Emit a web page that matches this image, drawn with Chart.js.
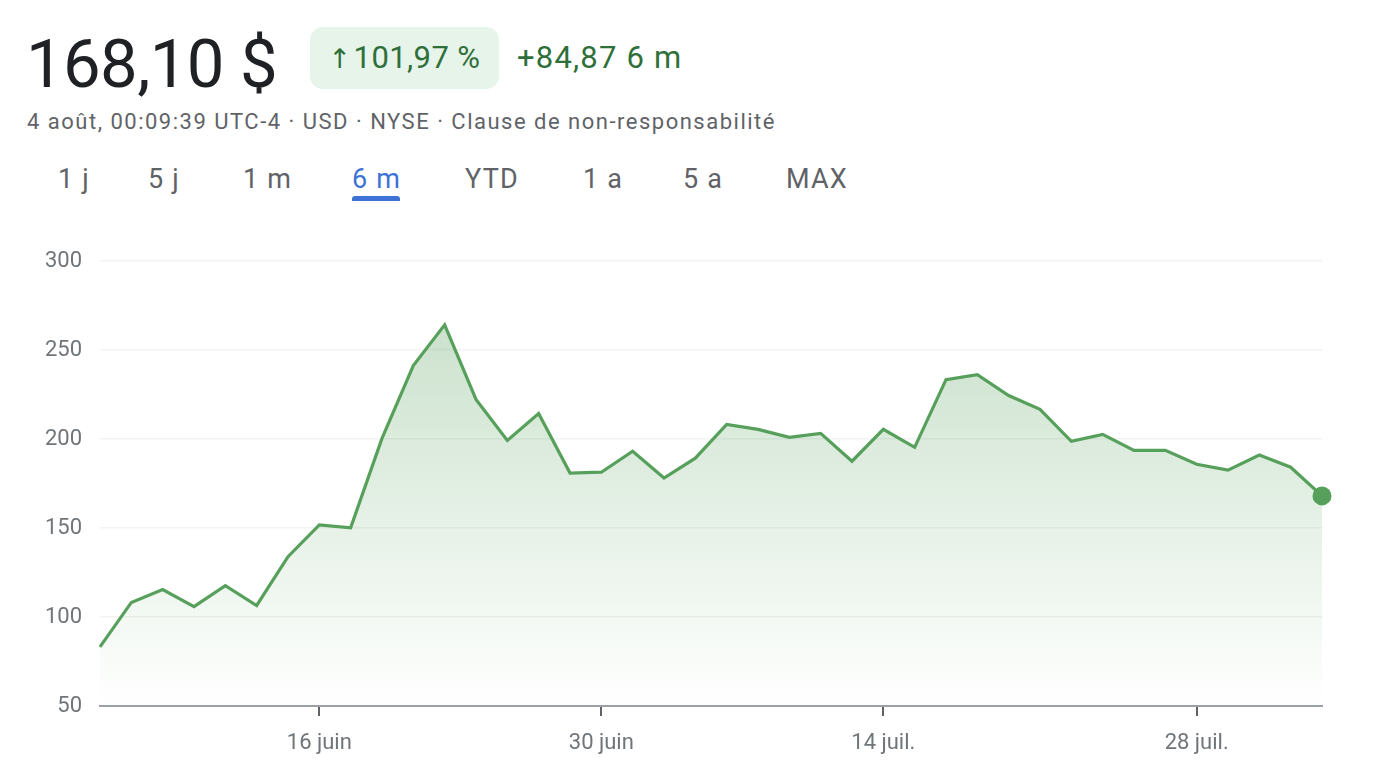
<!DOCTYPE html>
<html lang="fr">
<head>
<meta charset="utf-8">
<script src="https://cdn.jsdelivr.net/npm/chart.js@4"></script>
<style>
  html, body { margin: 0; padding: 0; background: #fff; width: 1380px; height: 784px; overflow: hidden; }
  body { font-family: Roboto, 'Noto Sans', sans-serif; position: relative; }
  .price { position: absolute; left: 26px; top: 22px; font-size: 67px; color: #202124; letter-spacing: -0.6px; line-height: 84px; }
  .pill { position: absolute; left: 310px; top: 27px; width: 189px; height: 62px; background: #e6f4ea; border-radius: 13px;
          color: #2f6f3a; font-size: 31px; line-height: 62px; text-align: center; letter-spacing: 0.4px; }
  .pill .arr { font-family: 'DejaVu Sans', sans-serif; font-size: 27px; margin-right: 2px; }
  .delta { position: absolute; left: 517px; top: 27px; color: #2f6f3a; font-size: 31px; line-height: 62px; letter-spacing: 1.2px; }
  .sub { position: absolute; left: 27px; top: 108px; color: #5f6368; font-size: 22px; line-height: 28px; letter-spacing: 1.5px; }
  .tabs span { position: absolute; top: 162px; font-size: 27px; line-height: 34px; color: #5f6368; letter-spacing: 1.2px; }
  .tabs span.on { color: #3e72d6; }
  .underline { position: absolute; left: 352px; top: 196px; width: 48px; height: 5px; background: #3e72d6; border-radius: 3px 3px 0 0; }
  .chart { position: absolute; left: 0; top: 230px; width: 1380px; height: 554px; }
</style>
</head>
<body>
<div class="price">168,10 $</div>
<div class="pill"><span class="arr">↑</span>101,97 %</div>
<div class="delta">+84,87 6 m</div>
<div class="sub">4 août, 00:09:39 UTC-4 · USD · NYSE · Clause de non-responsabilité</div>
<div class="tabs">
  <span style="left:58px">1 j</span>
  <span style="left:148px">5 j</span>
  <span style="left:243px">1 m</span>
  <span class="on" style="left:352px">6 m</span>
  <span style="left:465px">YTD</span>
  <span style="left:583px">1 a</span>
  <span style="left:683px">5 a</span>
  <span style="left:786px">MAX</span>
</div>
<div class="underline"></div>
<div class="chart"><canvas id="priceChart"></canvas></div>

<script>
/* ─── Data ─────────────────────────────────────── */
const DATES = [
  '5 juin', '6 juin', '9 juin', '10 juin', '11 juin', '12 juin', '13 juin', '16 juin',
  '17 juin', '18 juin', '20 juin', '23 juin', '24 juin', '25 juin', '26 juin', '27 juin',
  '30 juin', '1 juil.', '2 juil.', '3 juil.', '7 juil.', '8 juil.', '9 juil.', '10 juil.',
  '11 juil.', '14 juil.', '15 juil.', '16 juil.', '17 juil.', '18 juil.', '21 juil.', '22 juil.',
  '23 juil.', '24 juil.', '25 juil.', '28 juil.', '29 juil.', '30 juil.', '31 juil.', '1 août'
];

const PRICES = [
  83.2, 108.2, 115.4, 105.9, 117.7, 106.5, 133.9, 151.8,
  150.1, 200.4, 241.3, 264.2, 222.3, 199.3, 214.4, 180.9,
  181.4, 193.2, 178.1, 189.3, 208.3, 205.5, 201.0, 203.2,
  187.6, 205.5, 195.4, 233.4, 236.2, 224.5, 216.7, 198.8,
  202.7, 193.7, 193.7, 185.9, 182.6, 191.1, 184.2, 168.1
];

const TICK_LABELS = ['16 juin', '30 juin', '14 juil.', '28 juil.'];
const Y_MIN = 50, Y_MAX = 300, Y_STEP = 50;

/* ─── Chart ────────────────────────────────────── */
Chart.defaults.font.family = "Roboto, 'Noto Sans', sans-serif";
Chart.defaults.color = '#70757a';

(function initPriceChart() {
  const ctx  = document.getElementById('priceChart').getContext('2d');
  const grad = ctx.createLinearGradient(0, 29, 0, 476);
  grad.addColorStop(0, 'rgba(87,160,92,0.36)');
  grad.addColorStop(1, 'rgba(87,160,92,0.0)');

  const last = PRICES.length - 1;

  new Chart(ctx, {
    type: 'line',
    data: {
      labels: DATES,
      datasets: [{
        data:                 PRICES,
        borderColor:          '#57a05c',
        backgroundColor:      grad,
        borderWidth:          3.2,
        fill:                 'start',
        tension:              0,
        pointRadius:          c => c.dataIndex === last ? 9.5 : 0,
        pointBackgroundColor: '#57a05c',
        pointBorderWidth:     0,
        clip:                 false
      }]
    },
    options: {
      responsive:          true,
      maintainAspectRatio: false,
      animation:           false,
      layout: { padding: { top: 29, right: 58, left: 0, bottom: 0 } },
      plugins: { legend: { display: false }, tooltip: { enabled: false } },
      scales: {
        x: {
          grid: {
            drawOnChartArea: false,
            drawTicks:       true,
            tickLength:      10,
            lineWidth:       2,
            color:           '#5f6368'
          },
          border: { display: true, color: '#9aa0a6', width: 2 },
          ticks: {
            autoSkip:    false,
            maxRotation: 0,
            padding:     14,
            font:        { size: 22 },
            color:       '#70757a',
            callback:    (v, i) => TICK_LABELS.includes(DATES[i]) ? DATES[i] : null
          },
          afterFit: axis => { axis.height = 78; }
        },
        y: {
          min: Y_MIN,
          max: Y_MAX,
          grid:   { color: '#f1f3f4', lineWidth: 1.5, drawTicks: false },
          border: { display: false },
          ticks:  { stepSize: Y_STEP, padding: 18, font: { size: 22 }, color: '#70757a' },
          afterFit: axis => { axis.width = 100; }
        }
      }
    }
  });
})();
</script>
</body>
</html>
